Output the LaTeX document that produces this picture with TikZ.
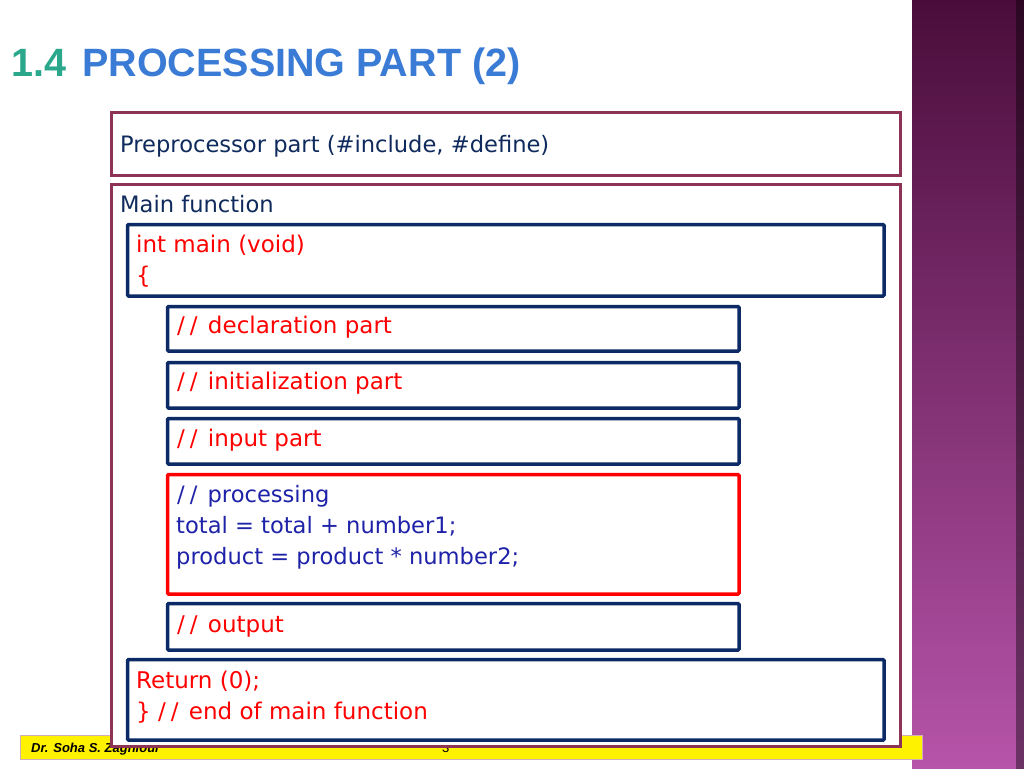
\documentclass[tikz,border=0pt]{standalone}
\usepackage{fontspec}
\setmainfont{DejaVu Sans}
\newfontfamily\titlefont{Liberation Sans}
\usetikzlibrary{shadows}
\definecolor{maroon}{HTML}{8C3356}
\definecolor{navy}{HTML}{0B2A66}
\definecolor{txtnavy}{HTML}{0F2A5C}
\definecolor{procblue}{HTML}{1E22A8}
\definecolor{teal}{HTML}{2BA88C}
\definecolor{tblue}{HTML}{3A7BD5}
\definecolor{pdark}{HTML}{4A0D3B}
\definecolor{plight}{HTML}{B654A9}
\newcommand\slsl{/\kern5pt/\kern3pt\ }
\begin{document}
\begin{tikzpicture}[x=1pt,y=-1pt,
  outerbox/.style={draw=maroon,line width=3pt,fill=white,rectangle,anchor=north west,inner sep=0pt,
    drop shadow={shadow xshift=2pt,shadow yshift=-2pt,opacity=0.35}},
  innerbox/.style={draw=navy,line width=3.5pt,fill=white,rectangle,anchor=north west,inner sep=0pt,rounded corners=1pt},
  redbox/.style={draw=red,line width=3.5pt,fill=white,rectangle,anchor=north west,inner sep=0pt,rounded corners=1pt},
  lbl/.style={anchor=base west,inner sep=0pt,font=\fontsize{22.6}{26}\selectfont},
  code/.style={anchor=base west,inner sep=0pt,font=\fontsize{23}{26}\selectfont,text=red}]
\useasboundingbox (0,0) rectangle (1024,768);
% side bar
\shade[top color=pdark,bottom color=plight] (912,0) rectangle (1024,768);
\shade[left color=plight!0!black,right color=black,opacity=0.4] (1016,0) rectangle (1024,768);
% title
\node[anchor=base west,inner sep=0pt,text=teal,font=\titlefont\bfseries\fontsize{39.5}{40}\selectfont] (num) at (11,76) {1.4};
\node[anchor=base west,inner sep=0pt,text=tblue,font=\titlefont\bfseries\fontsize{39.5}{40}\selectfont] (title) at (82,76) {PROCESSING PART (2)};
% footer
\node[draw=maroon!40,line width=0.6pt,fill=yellow,anchor=north west,inner sep=0pt,minimum width=902pt,minimum height=24pt] (footer) at (20,735) {};
\node[anchor=base west,inner sep=0pt,font=\titlefont\bfseries\itshape\fontsize{13}{14}\selectfont] (author) at (31,752) {Dr. Soha S. Zaghloul};
\node[anchor=base west,inner sep=0pt,font=\titlefont\fontsize{13}{14}\selectfont] (page) at (442,752) {3};
% outer boxes
\node[outerbox,minimum width=789pt,minimum height=63pt] (pre) at (109.5,110.5) {};
\node[outerbox,minimum width=789pt,minimum height=562pt] (mainbox) at (109.5,182.5) {};
\node[lbl,text=txtnavy] (pretxt) at (120,152) {Preprocessor part (\#include, \#define)};
\node[lbl,text=txtnavy] (maintxt) at (120,212) {Main function};
% inner boxes
\node[innerbox,minimum width=756.5pt,minimum height=71.5pt] (intmain) at (125.75,222.75) {};
\node[code] (l1) at (136,252) {int main (void)};
\node[code] (l2) at (136,283) {\{};
\node[innerbox,minimum width=571.5pt,minimum height=44.5pt] (decl) at (165.75,304.75) {};
\node[code] (decltxt) at (177,333) {\slsl declaration part};
\node[innerbox,minimum width=571.5pt,minimum height=45.5pt] (init) at (165.75,360.75) {};
\node[code] (inittxt) at (177,389) {\slsl initialization part};
\node[innerbox,minimum width=571.5pt,minimum height=45.5pt] (inp) at (165.75,416.75) {};
\node[code] (inptxt) at (177,446) {\slsl input part};
\node[redbox,minimum width=571.5pt,minimum height=119.5pt] (proc) at (165.75,472.75) {};
\node[lbl,text=procblue] (p1) at (177,502) {\slsl processing};
\node[lbl,text=procblue] (p2) at (176,533) {total = total + number1;};
\node[lbl,text=procblue] (p3) at (176,564) {product = product * number2;};
\node[innerbox,minimum width=571.5pt,minimum height=46.5pt] (outp) at (165.75,601.75) {};
\node[code] (outtxt) at (177,632) {\slsl output};
\node[innerbox,minimum width=756.5pt,minimum height=80.5pt] (ret) at (125.75,657.75) {};
\node[code] (r1) at (136,688) {Return (0);};
\node[code] (r2) at (136,719) {\} \slsl end of main function};
\end{tikzpicture}
\end{document}
